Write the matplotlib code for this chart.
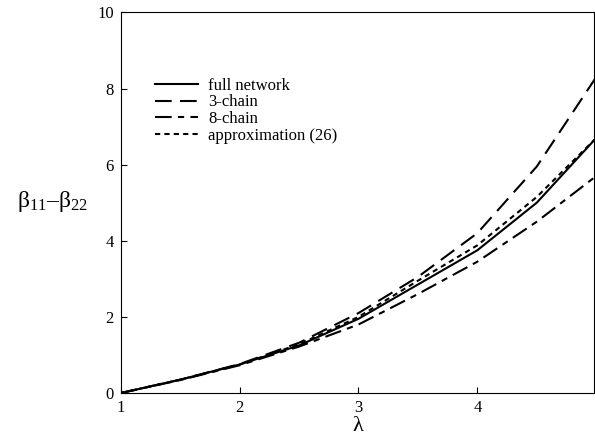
import matplotlib
matplotlib.use('Agg')
import matplotlib.pyplot as plt
import numpy as np

plt.rcParams['font.family'] = ['Liberation Serif', 'DejaVu Serif']
plt.rcParams['mathtext.fontset'] = 'custom'
plt.rcParams['mathtext.rm'] = 'Liberation Serif'

lam = [1.0, 1.5, 2.0, 2.5, 3.0, 3.5, 4.0, 4.5, 5.0]
full = [0.0, 0.35, 0.75, 1.25, 1.95, 2.85, 3.75, 5.0, 6.7]
chain3 = [0.0, 0.35, 0.76, 1.32, 2.1, 3.05, 4.2, 5.95, 8.3]
chain8 = [0.0, 0.34, 0.73, 1.22, 1.8, 2.6, 3.45, 4.5, 5.7]
approx = [0.0, 0.35, 0.75, 1.28, 2.0, 2.95, 3.88, 5.15, 6.7]

labels = ['full network', '3-chain', '8-chain', 'approximation (26)']

fig = plt.figure(figsize=(5.95, 4.36), dpi=100)
ax = fig.add_axes([0.203, 0.0986, 0.795, 0.873])

ax.plot(lam, full, 'k-', lw=1.5, label=labels[0])
ax.plot(lam, chain3, 'k', lw=1.5, dashes=(8, 4), label=labels[1])
ax.plot(lam, chain8, 'k', lw=1.5, dashes=(8, 3, 3, 3), label=labels[2])
ax.plot(lam, approx, 'k', lw=1.5, dashes=(2.5, 2), label=labels[3])

ax.set_xlim(1, 4.98)
ax.set_ylim(0, 10)
ax.set_xticks([1, 2, 3, 4])
ax.set_yticks([0, 2, 4, 6, 8, 10])
ax.tick_params(direction='in', length=4, width=0.8, labelsize=12, pad=5)
for s in ax.spines.values():
    s.set_linewidth(0.8)

ax.set_xlabel('λ', fontsize=16, labelpad=1)
ax.set_ylabel(r'$\mathregular{β_{11}–β_{22}}$', fontsize=17, rotation=0, labelpad=0)
ax.yaxis.set_label_coords(-0.145, 0.47)

ax.legend(loc='upper left', bbox_to_anchor=(0.04, 0.868), frameon=False,
          fontsize=12, handlelength=2.6, handletextpad=0.6, labelspacing=0.05)

fig.savefig('out.png', dpi=100)
